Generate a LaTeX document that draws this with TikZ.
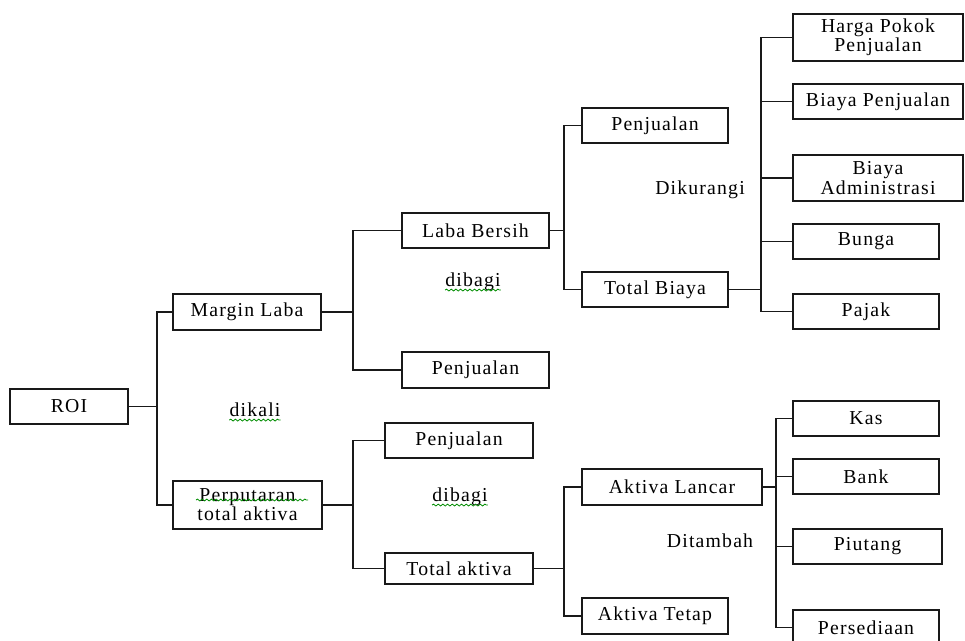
\documentclass[tikz,border=0pt]{standalone}
\usepackage{fontspec}
\setmainfont{Liberation Serif}[LetterSpace=6]
\usetikzlibrary{decorations.pathmorphing}
\begin{document}
\begin{tikzpicture}[x=0.75pt,y=-0.75pt,
  box/.style={draw=black!90, line width=1.4pt, rectangle, inner sep=0pt, align=center,
    font=\fontsize{14.8}{12.3}\selectfont, minimum width=109.5pt, minimum height=26.25pt},
  lbl/.style={inner sep=0pt, font=\fontsize{14.8}{12.3}\selectfont},
  conn/.style={draw=black!90, line width=1.4pt},
  wavy/.style={draw=green!55!black, line width=0.6pt, decorate,
    decoration={snake, amplitude=0.7pt, segment length=3.5pt}}]
\useasboundingbox (0,0) rectangle (965,640);

% level 0
\node[box, minimum width=88.5pt] (roi) at (69,406.5) {ROI};
% level 1
\node[box, minimum width=111pt, minimum height=27pt] (ml) at (247,312) {Margin Laba};
\node[box, minimum width=111.75pt, minimum height=36pt] (pa) at (247.5,505) {Perputaran\\total aktiva};
% level 2
\node[box, minimum width=110.25pt] (lb) at (475.5,230.5) {Laba Bersih};
\node[box, minimum width=110.25pt, minimum height=27pt] (pj1) at (475.5,370) {Penjualan};
\node[box, minimum width=111pt] (pj3) at (459,440.5) {Penjualan};
\node[box, minimum width=111pt, minimum height=23.25pt] (ta) at (459,568.5) {Total aktiva};
% level 3
\node[box] (pj2) at (655,125.5) {Penjualan};
\node[box] (tb) at (655,289.5) {Total Biaya};
\node[box, minimum width=135pt, minimum height=27pt] (al) at (672,487) {Aktiva Lancar};
\node[box, minimum height=27pt] (at) at (655,616) {Aktiva Tetap};
% level 4
\node[box, minimum width=127.5pt, minimum height=35.25pt] (hpp) at (878,37.5) {Harga Pokok\\Penjualan};
\node[box, minimum width=127.5pt] (bp) at (878,101.5) {Biaya Penjualan};
\node[box, minimum width=127.5pt, minimum height=34.5pt] (ba) at (878,178) {Biaya\\Administrasi};
\node[box] (bu) at (866,241.5) {Bunga};
\node[box] (pk) at (866,311.5) {Pajak};
\node[box] (kas) at (866,418.5) {Kas};
\node[box] (bank) at (866,476.5) {Bank};
\node[box, minimum width=111.75pt] (piu) at (867.5,546.5) {Piutang};
\node[box] (per) at (866,627.5) {Persediaan};

% operation labels
\node[lbl] (op1) at (255,410) {dikali};
\node[lbl] (op2) at (473,282) {dibagi};
\node[lbl] (op3) at (700,190) {Dikurangi};
\node[lbl] (op4) at (460,497) {dibagi};
\node[lbl] (op5) at (710,541) {Ditambah};

% spelling underlines
\draw[wavy] ([yshift=-2.5pt]op1.base west) -- ([yshift=-2.5pt]op1.base east);
\draw[wavy] ([yshift=-2.5pt]op2.base west) -- ([yshift=-2.5pt]op2.base east);
\draw[wavy] ([yshift=-2.5pt]op4.base west) -- ([yshift=-2.5pt]op4.base east);
\draw[wavy] (196,500) -- (308,500);

% trunks
\coordinate (j1) at (157,0);
\coordinate (j2) at (353,0);
\coordinate (j3) at (564,0);
\coordinate (j4) at (761,0);
\coordinate (j5) at (776,0);

\foreach \c in {ml,pa} \draw[conn] (roi.east) -- (roi.east -| j1) |- (\c.west);
\foreach \c in {lb,pj1} \draw[conn] (ml.east) -- (ml.east -| j2) |- (\c.west);
\foreach \c in {pj3,ta} \draw[conn] (pa.east) -- (pa.east -| j2) |- (\c.west);
\foreach \c in {pj2,tb} \draw[conn] (lb.east) -- (lb.east -| j3) |- (\c.west);
\foreach \c in {al,at} \draw[conn] (ta.east) -- (ta.east -| j3) |- (\c.west);
\foreach \c in {hpp,bp,ba,bu,pk} \draw[conn] (tb.east) -- (tb.east -| j4) |- (\c.west);
\foreach \c in {kas,bank,piu,per} \draw[conn] (al.east) -- (al.east -| j5) |- (\c.west);
\end{tikzpicture}
\end{document}
